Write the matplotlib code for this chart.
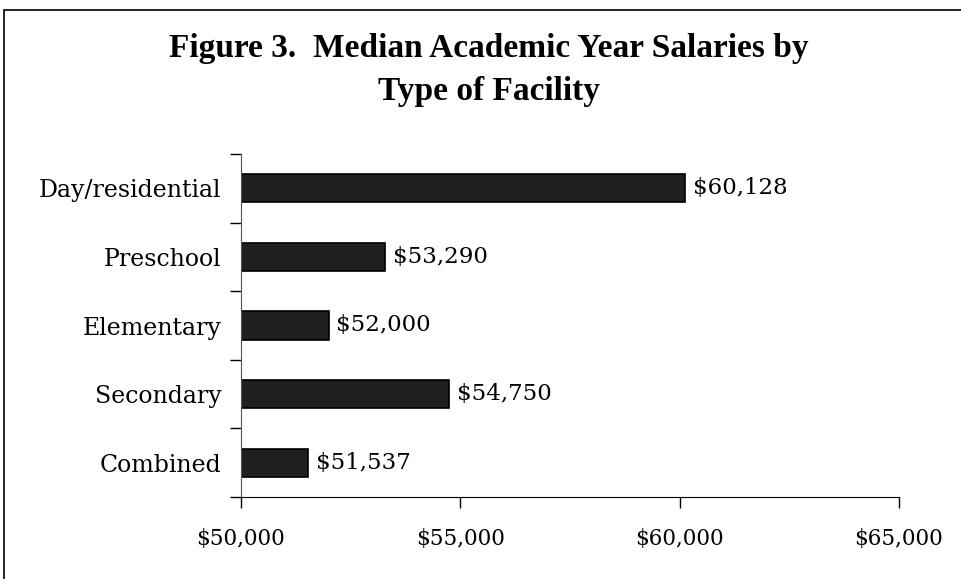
import matplotlib.pyplot as plt
import matplotlib.patches as mpatches
import numpy as np

# data
categories = ["Day/residential", "Preschool", "Elementary", "Secondary", "Combined"]
salaries = [60128, 53290, 52000, 54750, 51537]
xticks = [50000, 55000, 60000, 65000]

plt.rcParams["font.family"] = ["DejaVu Serif"]

fig = plt.figure(figsize=(9.61, 5.79), dpi=100)
W, H = 961, 579

# outer frame (top/left visible)
fig.patches.append(mpatches.Rectangle((4 / W, -0.05), 1.1, (H - 10) / H + 0.05,
                                      transform=fig.transFigure, fill=False,
                                      edgecolor="black", lw=1.2))

ax = fig.add_axes([241 / W, 1 - 497 / H, (899 - 241) / W, (497 - 154) / H])

y = np.arange(len(categories))
ax.barh(y, salaries, height=0.41, color="#1f1f1f", edgecolor="black", lw=1.2)
ax.set_xlim(50000, 65000)
ax.set_ylim(len(categories) - 0.5, -0.5)

for yi, v in zip(y, salaries):
    ax.annotate(f"${v:,}", xy=(v, yi), xytext=(5.5, 0), textcoords="offset points",
                va="center", ha="left", fontsize=16.5)

ax.set_yticks(y)
ax.set_yticklabels(categories, fontsize=17)
ax.tick_params(axis="y", which="major", length=0, pad=14)
ax.set_yticks(np.arange(-0.5, len(categories)), minor=True)
ax.tick_params(axis="y", which="minor", length=8, direction="out", width=1)

ax.set_xticks(xticks)
ax.set_xticklabels([f"${t:,}" for t in xticks], fontsize=15.5)
ax.tick_params(axis="x", length=8, direction="out", pad=14, width=1)

for s in ["top", "right"]:
    ax.spines[s].set_visible(False)
ax.spines["left"].set_color("#555555")

fig.text(489 / W, 1 - 70 / H, "Figure 3.  Median Academic Year Salaries by\nType of Facility",
         ha="center", va="center", fontsize=24, fontweight="bold", linespacing=1.5,
         family=["Liberation Serif", "DejaVu Serif"])

fig.savefig("out.png", dpi=100)
